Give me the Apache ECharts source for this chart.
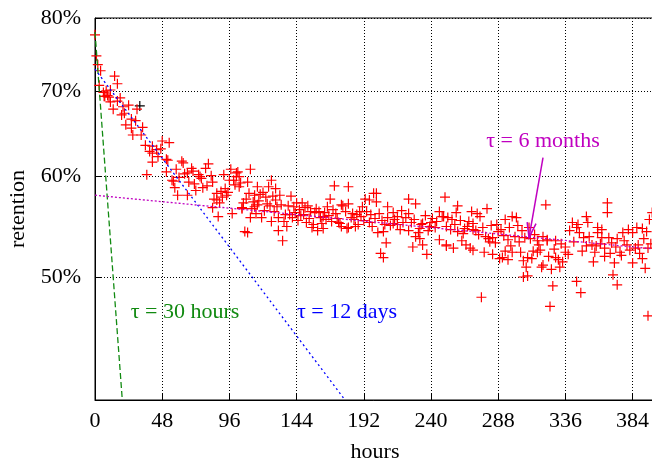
<!DOCTYPE html>
<html><head><meta charset="utf-8">
<script src="https://cdn.jsdelivr.net/npm/echarts@6/dist/echarts.min.js"></script>
<style>html,body{margin:0;padding:0;background:#fff}#c{width:652px;height:461px}</style>
</head><body><div id="c"></div>
<script>
const xTicks = [0, 48, 96, 144, 192, 240, 288, 336, 384];
const yTicks = [50, 60, 70, 80];

// [hours, retention %]
const retentionPoints = [
[0,77.6],[1,74.7],[2,73.5],[3,70.8],[4,72.7],[6,69.9],[6.5,69.4],[7,69.4],[8,70.1],[9,69.5],[10,69.3],[11,70.2],[11,68.7],[13,67.8],[14,72.0],[16,71.0],[16,68.8],[18,69.2],[19,67.1],[20,68.1],[21,67.3],[22,65.9],[24,68.3],[26,66.6],[26,65.5],[27,64.7],[29,66.4],[30,67.8],[33,64.7],[34,65.6],[36,63.5],[37,60.2],[39,62.8],
[41,63.4],[41,62.6],[41,61.6],[44,63.0],[45,62.2],[47,63.1],[48,64.0],[51,61.9],[51,60.5],[52,61.8],[53,63.8],[55,59.6],[56,59.5],[57,58.8],[58,60.8],[59,58.0],[60,59.9],[62,61.7],[63,61.5],[64,60.3],[66,60.4],[66,58.0],[67,59.4],[69,60.9],[70,60.6],[71,59.2],[72,58.5],[74,60.2],[75,60.0],[76,59.8],[77,58.8],[79,60.9],[80,59.0],[81,61.4],[83,60.1],[84,59.4],[84,56.7],[85,57.6],[87,58.2],[87,57.5],[88,55.8],[89,57.2],[90,58.4],[91,57.8],[92,60.2],[93,58.7],[94,58.0],[95,58.3],[96,59.6],[97,60.8],[98,56.1],[99,59.6],[100,59.1],[101,60.0],[102,60.5],[103,58.9],[104,59.3],[105,56.7],
[101,60.4],[103,60.0],[105,56.6],[106,57.2],[107,54.3],[108,57.6],[109,59.4],[109,54.2],[110,58.2],[111,60.8],[111,55.7],[112,56.6],[113,57.3],[114,58.0],[114,56.8],[115,56.1],[116,58.9],[116,57.0],[117,57.4],[118,58.1],[119,55.7],[120,58.3],[121,56.4],[122,57.8],[123,57.1],[124,58.9],[125,56.9],[126,59.6],[126,55.3],[127,57.9],[128,56.3],[129,58.7],[129,57.5],[130,56.8],[131,55.7],[131,54.4],[132,58.0],[133,57.0],[134,53.4],[135,55.3],[136,56.0],[137,54.8],[138,56.9],[139,56.0],[140,57.9],[141,55.7],[142,56.8],[143,56.2],[144,57.2],[145,55.4],[146,56.5],[147,55.9],[148,57.2],[149,56.0],[150,56.7],[151,55.2],[152,56.9],[153,55.6],[154,56.3],[155,54.7],[156,55.0],[157,56.2],[158,56.6],[159,54.4],[160,56.3],[161,55.7],[162,55.1],[163,55.8],[163,54.6],[164,56.2],[165,55.5],[166,56.8],[167,55.9],[168,57.6],[169,55.3],[170,56.5],[171,59.0],[172,56.1],[173,55.6],[174,55.2],[176,57.0],[176,54.8],
[175,55.1],[177,56.9],[179,56.3],[180,54.6],[181,58.9],[181,57.1],[181,54.7],[183,55.7],[184,56.1],[185,55.5],[186,54.8],[187,56.0],[188,55.0],[189,56.3],[190,55.8],[191,56.8],[192,55.4],[193,57.6],[194,56.3],[196,57.5],[196,55.2],[197,56.0],[198,54.8],[199,58.2],[200,55.6],[201,58.2],[201,57.3],[202,54.2],[203,56.1],[204,52.2],[205,55.4],[206,54.3],[206,51.8],[207,55.0],[208,53.2],[209,56.8],[209,55.7],[211,54.9],[213,56.2],[213,55.1],[214,55.5],[216,55.8],[216,55.0],[218,54.5],[219,56.4],[220,55.2],[222,55.7],[224,57.6],[224,56.1],[224,54.4],[226,55.2],[227,52.8],[228,55.5],[229,57.1],[229,53.8],[231,54.2],[232,54.6],[232,53.6],[233,55.0],[234,55.1],[234,53.0],[236,55.9],[237,52.1],[238,54.4],[239,54.8],[240,55.2],[241,55.6],[243,54.7],[244,55.3],[246,56.3],[246,53.5],[248,55.8],[249,55.8],[250,57.8],[251,52.9],
[251,54.8],[251,53.0],[252,55.7],[254,54.5],[255,55.5],[256,52.7],[257,55.0],[258,56.2],[259,56.9],[259,54.3],[261,55.4],[262,53.4],[263,54.1],[264,54.6],[265,53.0],[266,54.8],[267,55.3],[268,52.7],[269,56.3],[270,55.1],[270,54.5],[270,52.5],[272,54.4],[273,56.1],[274,54.0],[275,55.8],[276,48.2],[277,54.7],[278,52.3],[279,53.8],[280,56.6],[281,53.6],[282,53.3],[283,54.9],[284,53.7],[284,52.1],[286,53.2],[287,55.0],[288,54.3],[289,51.7],[290,54.5],[291,51.8],[292,53.9],[293,55.5],[293,52.4],[295,53.5],[295,51.6],[296,54.7],[297,52.9],[298,55.8],[298,52.3],[300,53.8],[301,55.7],[302,54.9],[303,53.3],[304,52.3],[305,54.4],[306,51.5],[306,50.0],[307,53.7],[308,50.9],[309,51.8],[309,50.1],[310,54.7],[311,53.6],[312,51.7],[313,52.4],[314,54.0],[316,53.4],[316,52.3],[317,53.0],[318,52.5],[319,50.9],[320,53.8],[320,51.1],[322,57.0],[323,53.4],
[323,53.5],[324,51.9],[325,47.4],[326,50.7],[327,49.2],[328,52.6],[329,53.4],[329,51.8],[331,51.6],[332,50.9],[333,53.1],[334,51.4],[336,52.8],[336,52.3],[338,52.1],[339,54.4],[341,55.2],[342,53.3],[344,54.7],[344,49.6],[345,55.0],[346,54.2],[347,48.6],[348,52.4],[349,53.7],[351,55.8],[351,52.9],[352,55.2],[353,53.8],[355,53.0],[356,51.4],[357,52.3],[358,52.9],[359,54.7],[359,54.2],[361,53.1],[362,54.5],[362,53.7],[364,52.7],[364,51.9],[366,57.2],[366,56.2],[367,53.7],[368,52.2],[369,53.2],[370,50.2],[371,51.3],[372,52.8],[373,53.6],[373,49.3],[375,52.3],[376,52.0],[377,54.2],[378,53.4],[380,53.0],[381,54.5],[382,52.5],[384,54.2],[384,51.3],[386,52.7],[387,54.7],[388,53.0],[389,52.2],[391,54.6],[391,51.7],[392,53.6],[393,50.8],[394,54.3],[395,52.7],[395,46.6],[396,55.5],[397,53.1],[398,56.2]
];
const blackPoints = [[32, 68.2]];

const tau30h = [[0, 78.0], [19.5, 40]];
const tau12d = [[0, 72.9], [178.6, 40]];
const tau6m  = [[0, 58.0], [400, 52.6]];
const arrow6m = [[320, 62.1], [310, 53.7]];

const L = v => Math.log10(v);
const toLog = pts => pts.map(p => [p[0], L(p[1])]);
const FONT = 'Liberation Serif';
const FS = 22;
const PLUS = 'path://M4.4,0L5.6,0L5.6,4.4L10,4.4L10,5.6L5.6,5.6L5.6,10L4.4,10L4.4,5.6L0,5.6L0,4.4L4.4,4.4Z';
const dotted = {color: '#000', width: 1, type: [1, 2]};

const chart = echarts.init(document.getElementById('c'));
chart.setOption({
  animation: false,
  backgroundColor: '#fff',
  grid: {left: 95, right: -3, top: 18, bottom: 61, containLabel: false, outerBoundsMode: 'none', show: true, borderColor: '#000', borderWidth: 1, backgroundColor: 'transparent'},
  xAxis: {
    type: 'value', min: 0, max: 400, interval: 48,
    name: 'hours', nameLocation: 'middle', nameGap: 41,
    nameTextStyle: {fontFamily: FONT, fontSize: FS, color: '#000'},
    axisLine: {show: true, lineStyle: {color: '#000'}},
    axisTick: {show: true, inside: true, length: 6, customValues: xTicks, lineStyle: {color: '#000'}},
    axisLabel: {customValues: xTicks, margin: 10, fontFamily: FONT, fontSize: FS, color: '#000'},
    splitLine: {show: true, lineStyle: dotted}
  },
  yAxis: {
    type: 'value', min: L(40), max: L(80),
    name: 'retention', nameLocation: 'middle', nameGap: 66, nameRotate: 90,
    nameTextStyle: {fontFamily: FONT, fontSize: FS, color: '#000'},
    axisLine: {show: true, lineStyle: {color: '#000'}},
    axisTick: {show: true, inside: true, length: 6, customValues: yTicks.map(L), lineStyle: {color: '#000'}},
    axisLabel: {customValues: yTicks.map(L), formatter: v => Math.round(Math.pow(10, v)) + '%', margin: 14, fontFamily: FONT, fontSize: FS, color: '#000'},
    splitLine: {show: true, lineStyle: dotted}
  },
  series: [
    {type: 'scatter', data: toLog(blackPoints), symbol: PLUS, symbolSize: 10, itemStyle: {color: '#000', opacity: 1}, z: 2},
    {type: 'scatter', data: toLog(retentionPoints), symbol: PLUS, symbolSize: 10, itemStyle: {color: '#ff0000', opacity: 1}, z: 3},
    {type: 'line', data: toLog(tau30h), showSymbol: false, symbol: 'none', lineStyle: {color: '#118a11', width: 1.3, type: [6, 3]}, z: 4},
    {type: 'line', data: toLog(tau12d), showSymbol: false, symbol: 'none', lineStyle: {color: '#0000ff', width: 1.3, type: [2, 3]}, z: 4},
    {type: 'line', data: toLog(tau6m), showSymbol: false, symbol: 'none', lineStyle: {color: '#c000c0', width: 1.3, type: [2, 2]}, z: 4},
    {type: 'custom', coordinateSystem: 'cartesian2d', z: 5,
      data: [[arrow6m[0][0], L(arrow6m[0][1]), arrow6m[1][0], L(arrow6m[1][1])]],
      encode: {x: [0, 2], y: [1, 3]},
      renderItem: (params, api) => {
        const a = api.coord([api.value(0), api.value(1)]);
        const b = api.coord([api.value(2), api.value(3)]);
        const dx = a[0] - b[0], dy = a[1] - b[1], len = Math.hypot(dx, dy);
        const ux = dx / len, uy = dy / len, hl = 15, hw = 4.5;
        const h1 = [b[0] + ux * hl - uy * hw, b[1] + uy * hl + ux * hw];
        const h2 = [b[0] + ux * hl + uy * hw, b[1] + uy * hl - ux * hw];
        const st = {stroke: '#c000c0', lineWidth: 1.5, fill: null};
        return {type: 'group', children: [
          {type: 'line', shape: {x1: a[0], y1: a[1], x2: b[0], y2: b[1]}, style: st},
          {type: 'polyline', shape: {points: [h1, b, h2]}, style: st}
        ]};
      }
    }
  ],
  graphic: [
    {type: 'text', x: 185, y: 312, z: 10, style: {text: 'τ = 30 hours', fill: '#118a11', font: FS + 'px "Liberation Serif"', align: 'center', verticalAlign: 'middle'}},
    {type: 'text', x: 347, y: 312, z: 10, style: {text: 'τ = 12 days', fill: '#0000ff', font: FS + 'px "Liberation Serif"', align: 'center', verticalAlign: 'middle'}},
    {type: 'text', x: 543, y: 141, z: 10, style: {text: 'τ = 6 months', fill: '#c000c0', font: FS + 'px "Liberation Serif"', align: 'center', verticalAlign: 'middle'}}
  ]
});
</script></body></html>
